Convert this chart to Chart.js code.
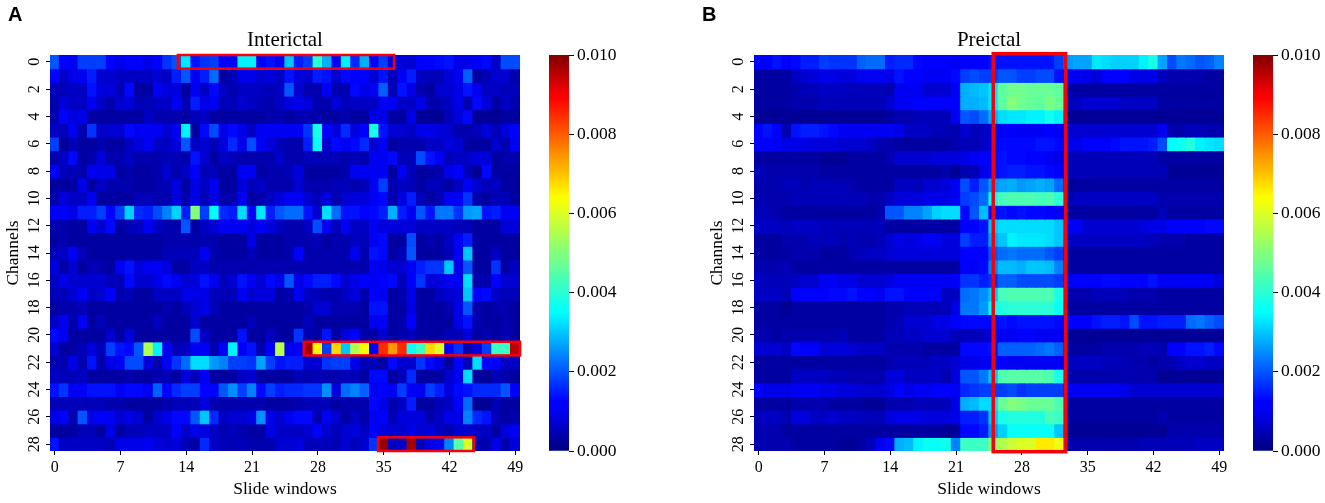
<!DOCTYPE html>
<html>
<head>
<meta charset="utf-8">
<title>Interictal and Preictal</title>
<script src="https://cdn.jsdelivr.net/npm/chart.js@4"></script>
<style>
  body { margin: 0; background: #fff; }
  #page { position: relative; width: 1325px; height: 503px; overflow: hidden; }
  canvas { position: absolute; top: 0; }
  .letter { position: absolute; top: 3px; font: bold 20px "Liberation Sans", sans-serif; color: #000; }
</style>
</head>
<body>
<div id="page">
  <canvas id="heatA" width="570" height="503" style="left:0"></canvas>
  <canvas id="barA" width="110" height="503" style="left:520px"></canvas>
  <canvas id="heatB" width="570" height="503" style="left:704px"></canvas>
  <canvas id="barB" width="110" height="503" style="left:1224px"></canvas>
  <span class="letter" style="left:8px">A</span>
  <span class="letter" style="left:702px">B</span>
</div>
<script>
const windows = Array.from({ length: 50 }, (_, i) => String(i));
const channelTicks = [0, 2, 4, 6, 8, 10, 12, 14, 16, 18, 20, 22, 24, 26, 28];
const windowTicks = [0, 7, 14, 21, 28, 35, 42, 49];
const colorbarMax = 0.01;

// cell values, in units of 0.0001, one row per channel
const interictal = [
  [20,12,10,18,18,18,11,9,11,11,9,11,17,20,33,14,17,18,11,11,34,34,10,14,10,30,15,18,40,28,11,34,16,28,10,18,8,8,7,12,12,13,14,9,9,10,13,6,19,19],
  [12,6,9,10,15,7,7,6,6,6,6,7,6,15,20,10,15,22,3,5,9,9,7,8,6,14,8,7,15,14,7,13,11,11,7,14,5,10,15,6,5,5,8,10,21,3,5,7,7,4],
  [5,5,6,6,14,8,8,5,13,3,3,10,8,8,3,10,6,13,6,4,6,6,6,5,6,20,7,4,4,10,4,4,13,9,10,21,5,14,9,4,3,7,7,9,14,10,6,6,5,5],
  [4,8,6,6,10,6,4,7,8,5,5,6,6,10,4,15,9,10,5,5,7,6,5,4,6,8,9,8,4,4,8,5,6,6,6,10,10,6,6,9,4,4,6,9,4,13,8,3,6,4],
  [4,12,8,9,3,3,3,3,3,3,6,4,4,4,3,5,6,3,3,3,3,3,3,4,4,3,4,4,4,3,3,4,3,3,9,9,3,3,9,2,2,2,5,8,13,2,2,2,3,3],
  [6,5,10,4,17,6,7,7,13,10,10,10,7,10,34,3,13,19,9,13,9,6,10,10,10,10,10,17,38,11,8,16,8,11,38,14,7,7,6,9,9,8,7,4,4,5,8,5,8,12],
  [18,2,5,3,3,4,3,3,6,8,10,6,6,8,20,6,7,5,8,16,9,19,10,8,5,4,4,15,36,7,13,10,13,16,7,10,3,4,4,4,6,6,8,7,3,3,3,7,4,10],
  [4,6,13,3,4,8,4,4,6,4,4,4,5,5,4,14,7,3,6,5,4,4,4,4,7,4,4,5,5,5,5,4,5,4,10,10,13,5,5,19,14,10,5,6,6,8,8,3,4,4],
  [10,5,5,4,10,9,9,3,4,3,3,4,7,4,6,11,5,5,3,3,10,10,3,4,4,5,8,3,3,3,3,4,10,10,10,10,3,10,5,3,3,4,9,11,5,2,13,3,3,3],
  [3,3,3,9,3,6,4,4,4,3,3,4,5,8,3,9,6,10,3,3,8,5,6,4,4,4,7,4,4,4,5,5,4,5,10,18,4,6,5,3,5,5,3,6,10,7,5,6,3,3],
  [4,8,6,6,10,3,3,3,3,5,5,4,4,8,4,9,5,9,4,4,10,3,4,6,8,10,10,7,5,8,4,7,8,8,10,13,4,8,15,5,3,5,10,10,17,4,3,5,5,3],
  [11,11,9,15,15,18,12,18,31,16,15,19,24,31,15,50,18,35,16,15,32,11,33,15,20,22,22,14,7,32,22,14,14,12,13,15,28,15,10,20,14,23,23,17,26,27,14,15,10,10],
  [4,4,3,3,10,7,13,3,5,6,10,6,4,4,20,3,6,7,10,10,10,8,10,8,6,4,4,6,19,10,5,10,6,6,10,8,8,8,8,6,6,6,6,5,5,3,3,3,8,8],
  [3,4,3,3,3,3,3,3,3,3,3,3,4,4,4,4,4,4,3,3,3,9,3,3,3,4,4,4,5,3,4,4,6,5,10,13,3,3,19,3,4,3,6,10,15,3,3,3,3,3],
  [5,6,10,5,3,3,3,3,3,3,3,3,5,5,5,5,10,4,3,3,3,5,3,3,3,4,12,4,4,4,4,4,10,4,14,13,3,5,20,3,3,3,5,10,30,3,3,6,3,3],
  [8,3,7,3,5,4,3,10,14,8,10,10,8,3,3,6,6,4,4,4,4,4,4,4,4,4,4,4,4,4,4,4,4,4,10,9,7,7,10,15,17,17,30,9,20,3,3,17,3,6],
  [6,9,7,7,7,7,5,5,13,7,7,9,13,10,7,8,14,10,5,7,14,10,7,13,9,20,9,13,15,15,13,7,9,12,10,11,13,5,11,17,8,8,10,10,32,4,4,11,7,7],
  [5,5,7,10,6,7,11,4,5,3,3,6,6,6,9,9,9,5,5,5,10,7,8,8,3,4,10,6,5,4,4,6,8,4,11,10,3,4,9,3,3,6,7,8,30,11,13,6,5,5],
  [3,4,4,5,3,3,3,3,3,3,3,3,4,3,5,7,9,5,3,3,3,3,3,3,3,3,3,4,7,7,4,4,4,3,14,14,3,3,9,3,3,3,4,9,20,4,3,4,4,3],
  [6,10,4,10,3,5,3,3,3,3,3,6,3,3,3,7,3,3,3,3,3,5,3,3,3,3,3,5,3,3,3,3,3,3,10,10,3,4,11,3,3,3,3,9,14,4,3,3,4,3],
  [13,10,3,3,3,3,7,3,8,3,3,3,3,3,3,19,6,3,3,3,14,3,3,6,3,3,17,4,3,14,3,8,11,4,3,7,3,4,5,3,3,3,5,5,8,3,4,3,5,3],
  [7,3,3,5,8,5,18,14,13,20,55,34,10,5,6,10,10,4,12,34,10,14,4,11,56,10,10,97,65,18,68,30,55,63,12,85,74,85,36,42,68,60,12,17,4,8,18,42,42,95],
  [4,4,9,4,14,4,9,10,19,19,8,4,10,17,22,32,32,26,24,18,18,17,27,18,14,15,15,7,7,17,18,18,9,5,5,3,13,7,7,17,13,9,3,11,5,32,12,12,6,6],
  [6,5,5,6,3,3,3,3,4,3,3,4,5,3,8,5,10,3,3,3,6,7,3,3,3,3,5,4,5,4,4,5,5,3,13,13,3,5,16,3,3,3,7,10,32,3,2,5,4,3],
  [14,17,10,10,14,14,14,10,13,13,10,21,11,16,18,18,12,12,20,25,18,24,13,18,15,16,16,17,17,25,8,22,24,21,10,12,10,18,10,10,18,15,8,13,14,16,16,16,20,11],
  [5,5,5,5,5,5,4,4,3,3,3,3,4,5,5,5,8,4,4,4,4,4,4,3,3,3,4,5,5,5,3,4,4,4,13,9,4,6,15,3,3,5,6,12,22,2,2,5,3,3],
  [9,11,4,20,9,12,10,7,9,7,3,7,9,13,13,20,30,16,6,7,7,9,25,9,7,10,13,13,4,10,7,3,6,4,10,12,5,8,8,8,4,6,9,9,24,16,14,5,3,4],
  [3,3,3,5,5,3,9,3,5,5,6,6,6,11,6,9,8,6,4,5,4,3,3,9,6,6,6,7,12,7,5,7,8,6,11,8,7,7,9,7,8,6,4,7,7,6,6,3,8,10],
  [14,6,6,6,6,6,5,9,9,9,10,8,7,8,5,3,16,6,5,5,5,4,4,4,7,7,8,5,5,5,5,7,5,7,17,98,6,6,97,5,9,10,24,45,60,4,4,9,4,8]
];

const preictal = [
  [12,12,14,12,13,15,15,18,17,17,17,21,22,22,15,16,16,13,12,12,12,10,11,11,11,14,14,14,14,14,14,14,18,26,27,27,33,32,31,31,31,34,38,27,19,23,22,20,21,24],
  [3,3,3,3,6,7,8,9,9,8,8,10,10,10,9,14,11,12,10,10,10,13,18,19,18,18,20,20,18,18,19,19,14,10,10,9,8,11,12,12,9,9,9,5,4,4,4,4,3,3],
  [3,3,3,3,4,5,5,6,6,6,5,5,5,5,4,10,10,10,7,7,7,10,28,29,30,33,46,48,48,47,47,47,46,4,3,3,3,3,3,3,3,3,3,3,3,3,3,3,3,3],
  [3,3,3,3,4,4,4,5,5,5,5,5,5,5,7,10,10,11,11,11,11,12,28,28,29,33,46,50,48,47,46,49,47,5,6,7,7,7,7,6,6,6,6,3,3,3,3,3,3,3],
  [2,2,2,2,2,2,2,2,2,2,2,2,2,2,3,4,4,5,5,5,5,10,20,19,22,28,32,33,33,34,34,37,34,2,2,2,2,2,2,2,2,2,2,2,2,2,2,2,2,2],
  [12,14,11,4,14,15,15,14,13,10,10,10,10,10,10,9,6,6,6,5,5,4,7,5,6,8,10,11,10,10,10,11,10,7,7,7,7,7,7,7,7,7,7,10,4,4,5,5,4,4],
  [11,12,10,9,9,9,8,8,8,7,7,7,6,4,4,3,3,3,3,3,3,4,5,5,6,9,13,13,13,13,14,14,13,9,9,11,11,12,13,14,14,14,15,19,35,37,39,34,33,32],
  [3,3,3,3,3,3,3,2,2,2,3,3,3,3,4,7,7,7,7,8,8,8,9,10,11,12,14,13,13,12,12,10,9,5,5,5,5,5,5,5,5,5,5,3,3,3,3,3,3,3],
  [5,4,4,4,4,4,4,3,3,3,3,3,3,3,3,3,3,3,3,3,4,2,4,5,9,13,14,15,15,14,14,13,11,5,5,5,5,5,5,5,5,5,5,5,2,2,2,2,2,2],
  [4,4,4,5,5,4,5,5,5,5,4,3,3,3,3,6,6,5,7,7,8,10,19,15,20,26,27,28,26,27,28,27,22,2,3,3,3,3,3,3,3,3,3,3,3,3,3,3,3,3],
  [4,4,4,4,5,5,5,5,5,5,5,5,4,4,6,8,8,8,9,9,9,10,18,19,22,36,43,44,44,44,43,44,40,4,6,6,6,6,6,6,6,6,6,4,4,4,4,4,4,4],
  [5,5,4,3,3,3,3,3,3,3,3,3,3,4,20,20,24,24,27,31,32,32,13,20,29,12,14,13,14,13,13,11,10,3,3,3,3,3,3,3,3,3,3,5,3,3,3,3,3,3],
  [6,6,6,5,6,6,6,5,5,5,5,5,5,5,3,3,3,3,3,3,3,3,12,12,14,30,32,32,32,32,32,32,30,10,10,7,7,7,7,7,7,8,9,9,12,12,12,12,13,13],
  [3,3,3,4,4,4,5,5,5,4,5,4,4,5,7,9,8,9,10,10,8,8,18,15,15,27,30,34,33,33,33,32,30,6,6,6,6,6,6,6,6,6,5,4,4,4,3,3,3,3],
  [3,3,3,3,4,4,4,3,3,3,4,5,6,6,7,8,8,8,8,8,8,8,11,12,12,20,22,23,22,22,22,20,18,3,3,3,3,3,3,3,3,3,3,3,3,3,3,3,3,3],
  [4,4,4,5,3,3,3,3,3,3,3,3,3,3,3,3,3,3,3,3,3,3,11,10,13,24,29,29,28,30,30,29,24,3,3,3,3,3,3,3,3,3,3,3,3,3,3,3,3,3],
  [6,5,5,5,6,7,7,10,10,9,9,7,7,7,8,10,10,10,10,10,10,11,17,17,15,17,21,21,19,19,19,19,18,10,11,11,12,13,13,12,12,12,14,10,10,10,10,10,10,8],
  [6,6,6,5,12,12,12,12,13,13,14,11,11,10,14,14,11,11,11,11,6,6,22,23,25,30,43,44,44,44,44,44,38,4,4,4,5,5,5,5,4,4,4,3,3,3,3,3,3,3],
  [3,3,3,2,3,3,3,3,3,3,3,3,3,3,4,4,5,5,5,5,5,9,23,23,26,35,39,40,40,40,40,40,36,3,3,3,3,3,3,3,3,3,3,3,3,3,3,3,3,3],
  [3,3,3,3,3,3,3,3,3,3,3,3,3,3,4,5,7,7,7,9,9,12,13,13,13,13,14,13,14,14,14,14,13,11,11,12,14,15,15,14,19,14,14,15,15,15,22,23,21,19],
  [4,4,3,4,4,4,4,4,4,5,3,3,3,3,5,5,6,6,7,7,7,5,5,5,6,8,10,10,11,11,10,10,10,2,2,2,2,2,2,2,2,2,2,2,2,2,2,2,2,2],
  [7,7,7,6,13,11,11,7,8,8,7,6,6,6,4,4,4,4,3,3,3,3,13,13,13,14,21,21,21,21,22,23,21,3,3,3,3,4,4,4,4,5,5,4,12,12,14,14,15,13],
  [3,3,3,3,3,3,3,3,3,3,3,3,3,3,4,5,5,5,5,6,6,7,9,9,10,10,11,10,10,10,10,10,10,5,6,6,6,5,5,5,4,4,3,4,4,6,7,7,6,6],
  [3,3,3,3,6,6,6,6,5,5,4,4,4,4,8,8,6,6,6,6,4,8,20,20,23,30,44,45,45,45,45,44,38,4,4,4,4,4,4,4,4,4,4,2,2,2,2,2,2,2],
  [12,9,9,9,10,10,10,9,9,8,8,7,7,7,8,11,9,10,10,12,11,10,16,17,18,18,18,19,17,18,18,18,18,10,10,10,10,10,10,9,7,7,7,7,7,7,7,7,7,7],
  [3,3,3,3,4,4,4,4,3,3,3,3,2,2,4,4,4,5,5,5,5,9,28,29,32,32,47,50,49,47,47,47,44,3,3,3,3,3,3,3,3,3,3,3,3,3,3,3,3,3],
  [5,6,6,4,8,8,6,6,7,6,6,5,5,5,8,9,9,9,8,8,8,9,15,15,17,30,38,39,39,39,39,43,42,3,3,3,3,3,3,3,3,3,3,4,3,3,3,3,3,3],
  [4,4,4,3,3,3,3,3,3,3,3,3,3,3,3,3,3,3,3,3,2,2,13,13,15,26,31,36,36,36,36,36,30,2,2,2,2,2,2,2,2,2,2,2,4,4,4,4,4,4],
  [4,4,4,4,3,3,3,3,3,2,2,3,5,10,13,28,29,34,36,36,37,24,42,42,42,50,55,58,60,60,66,66,62,4,4,4,4,4,4,4,4,5,5,5,5,5,5,6,6,6]
];

// red highlight boxes in cell units: first window, last edge, first row, last edge
const boxesA = [[13.6, 36.6, 0, 1], [27, 50, 21, 22], [34.9, 45.1, 28, 29]];
const boxesB = [[25.45, 33.15, -0.1, 29.05]];

const jetStops = [
  [0, [0, 0, 127]], [0.11, [0, 0, 255]], [0.125, [0, 0, 255]], [0.35, [0, 255, 255]],
  [0.375, [20, 255, 235]], [0.64, [255, 255, 0]], [0.66, [255, 235, 0]], [0.89, [255, 0, 0]], [0.91, [240, 0, 0]], [1, [127, 0, 0]]
];

function jet(t) {
  for (let i = 1; i < jetStops.length; i++) {
    const [t0, c0] = jetStops[i - 1];
    const [t1, c1] = jetStops[i];
    if (t <= t1) {
      const f = (t - t0) / (t1 - t0);
      return `rgb(${c0.map((c, k) => Math.round(c + (c1[k] - c) * f)).join(",")})`;
    }
  }
  return "rgb(127,0,0)";
}

Chart.defaults.font.family = '"Liberation Serif", serif';
Chart.defaults.color = "#000";
Chart.defaults.animation = false;

function boxPlugin(boxes, lineWidth) {
  return {
    id: "redBoxes",
    afterDatasetsDraw(chart) {
      const { ctx, scales: { x, y } } = chart;
      const cell = x.getPixelForValue(1) - x.getPixelForValue(0);
      ctx.save();
      ctx.strokeStyle = "#f5000a";
      ctx.lineWidth = lineWidth;
      boxes.forEach(([x0, x1, y0, y1]) => {
        const left = x.getPixelForValue(0) + (x0 - 0.5) * cell;
        const right = x.getPixelForValue(0) + (x1 - 0.5) * cell;
        ctx.strokeRect(left, y.getPixelForValue(y0), right - left, y.getPixelForValue(y1) - y.getPixelForValue(y0));
      });
      ctx.restore();
    },
  };
}

function drawHeatmap(id, titleText, rows, boxes, lineWidth) {
  const tickGrid = { display: true, offset: false, drawOnChartArea: false, drawTicks: true, tickLength: 4, color: "#000" };
  new Chart(document.getElementById(id).getContext("2d"), {
    type: "bar",
    data: {
      labels: windows,
      datasets: rows.map((row, r) => ({
        data: row.map(() => [r, r + 1]),
        backgroundColor: row.map((v) => jet(v / 100)),
        borderWidth: 0,
        inflateAmount: 0.6,
        barPercentage: 1,
        categoryPercentage: 1,
        grouped: false,
      })),
    },
    options: {
      responsive: false,
      plugins: {
        legend: { display: false },
        tooltip: { enabled: false },
        title: {
          display: true,
          text: titleText,
          font: { size: 21, weight: "normal", lineHeight: "25px" },
          padding: { top: 28, bottom: 2 },
        },
      },
      scales: {
        x: {
          grid: tickGrid,
          border: { display: false },
          ticks: { autoSkip: false, maxRotation: 0, padding: 3, font: { size: 16 } },
          afterBuildTicks: (s) => { s.ticks = s.ticks.filter((t) => windowTicks.includes(t.value)); },
          afterFit: (s) => { s.height = 52; },
          title: { display: true, text: "Slide windows", font: { size: 17.5 }, padding: { top: 0, bottom: 3 } },
        },
        y: {
          reverse: true,
          min: 0,
          max: rows.length,
          grid: tickGrid,
          border: { display: false },
          ticks: {
            autoSkip: false,
            crossAlign: "center",
            padding: 3,
            font: { size: 16 },
            callback: (v) => v - 0.5,
          },
          afterBuildTicks: (s) => { s.ticks = channelTicks.map((c) => ({ value: c + 0.5 })); },
          afterCalculateLabelRotation: (s) => { s.labelRotation = 90; },
          afterFit: (s) => { s.width = 50; },
          title: { display: true, text: "Channels", font: { size: 17.5 }, padding: { top: 3, bottom: 0 } },
        },
        yPad: {
          position: "right",
          grid: { display: false },
          border: { display: false },
          ticks: { display: false },
          afterFit: (s) => { s.width = 50; },
        },
      },
    },
    plugins: [boxPlugin(boxes, lineWidth)],
  });
}

function drawColorbar(id) {
  new Chart(document.getElementById(id).getContext("2d"), {
    type: "bar",
    data: {
      labels: [""],
      datasets: [{
        data: [[0, colorbarMax]],
        barPercentage: 1,
        categoryPercentage: 1,
        borderWidth: 0,
        backgroundColor: (context) => {
          const { chartArea, ctx } = context.chart;
          if (!chartArea) return "#00007f";
          const g = ctx.createLinearGradient(0, chartArea.bottom, 0, chartArea.top);
          jetStops.forEach(([t, c]) => g.addColorStop(t, `rgb(${c.join(",")})`));
          return g;
        },
      }],
    },
    options: {
      responsive: false,
      layout: { padding: { left: 29, top: 55, bottom: 52 } },
      plugins: { legend: { display: false }, tooltip: { enabled: false } },
      scales: {
        x: { display: false },
        y: {
          position: "right",
          min: 0,
          max: colorbarMax,
          grid: { display: true, drawOnChartArea: false, drawTicks: true, tickLength: 5, color: "#000" },
          border: { display: false },
          ticks: { stepSize: 0.002, padding: 3, font: { size: 17.5 }, callback: (v) => v.toFixed(3) },
          afterFit: (s) => { s.width = 61; },
        },
      },
    },
  });
}

drawHeatmap("heatA", "Interictal", interictal, boxesA, 2.5);
drawHeatmap("heatB", "Preictal", preictal, boxesB, 3.5);
drawColorbar("barA");
drawColorbar("barB");
</script>
</body>
</html>
